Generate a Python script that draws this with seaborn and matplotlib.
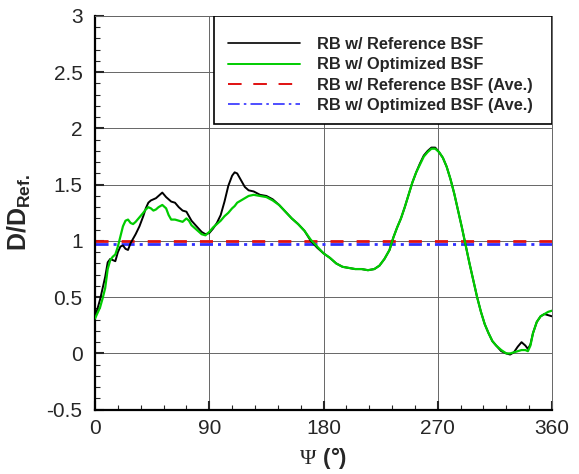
import numpy as np
import pandas as pd
import seaborn as sns
import matplotlib
matplotlib.use('Agg')
import matplotlib.pyplot as plt
from matplotlib.lines import Line2D
from matplotlib.patches import Rectangle

# azimuth (deg) and normalized drag for both blade configurations
psi = [0, 2, 4, 6, 8, 10, 12, 14, 16, 18, 20, 22, 24, 26, 28, 30, 32, 35, 38, 40,
       42, 44, 46, 48, 50, 53, 56, 58, 60, 63, 66, 69, 72, 74, 76, 80, 84, 87, 90, 93,
       96, 99, 102, 105, 108, 110, 112, 115, 118, 121, 125, 130, 135, 140, 145, 150, 155, 160, 165, 170,
       175, 180, 185, 190, 195, 200, 205, 210, 215, 220, 224, 228, 232, 235, 238, 241, 244, 247, 250, 253,
       256, 259, 262, 265, 268, 271, 274, 277, 280, 283, 286, 289, 292, 295, 298, 301, 304, 307, 310, 313,
       316, 320, 324, 327, 330, 333, 336, 339, 341, 343, 345, 348, 351, 354, 357, 360]
d_ref = [0.33, 0.40, 0.48, 0.58, 0.68, 0.81, 0.84, 0.83, 0.82, 0.90, 0.95, 0.96, 0.93, 0.92, 0.98, 1.02, 1.06, 1.13, 1.22, 1.29,
         1.34, 1.36, 1.37, 1.38, 1.40, 1.43, 1.39, 1.37, 1.35, 1.34, 1.30, 1.27, 1.26, 1.22, 1.18, 1.13, 1.08, 1.06, 1.07, 1.11,
         1.16, 1.23, 1.35, 1.49, 1.58, 1.61, 1.60, 1.54, 1.48, 1.45, 1.44, 1.41, 1.40, 1.37, 1.32, 1.26, 1.20, 1.15, 1.09, 1.00,
         0.94, 0.89, 0.85, 0.80, 0.77, 0.76, 0.75, 0.75, 0.74, 0.75, 0.78, 0.84, 0.92, 1.03, 1.12, 1.20, 1.30, 1.41, 1.52, 1.61,
         1.69, 1.76, 1.80, 1.83, 1.83, 1.79, 1.74, 1.66, 1.55, 1.42, 1.27, 1.12, 0.96, 0.80, 0.65, 0.50, 0.37, 0.26, 0.18, 0.11,
         0.07, 0.02, 0.00, -0.01, 0.01, 0.06, 0.10, 0.07, 0.04, 0.08, 0.18, 0.28, 0.33, 0.35, 0.34, 0.33]
d_opt = [0.31, 0.36, 0.41, 0.49, 0.58, 0.75, 0.83, 0.86, 0.88, 0.95, 1.04, 1.13, 1.18, 1.19, 1.16, 1.15, 1.17, 1.21, 1.25, 1.28,
         1.30, 1.29, 1.27, 1.28, 1.30, 1.32, 1.29, 1.23, 1.19, 1.19, 1.18, 1.17, 1.20, 1.18, 1.14, 1.10, 1.06, 1.05, 1.08, 1.12,
         1.15, 1.18, 1.22, 1.25, 1.29, 1.31, 1.34, 1.36, 1.38, 1.40, 1.41, 1.40, 1.39, 1.36, 1.32, 1.26, 1.20, 1.15, 1.09, 1.01,
         0.95, 0.89, 0.85, 0.80, 0.77, 0.76, 0.75, 0.75, 0.74, 0.75, 0.78, 0.84, 0.92, 1.03, 1.12, 1.20, 1.30, 1.41, 1.52, 1.61,
         1.68, 1.75, 1.79, 1.82, 1.82, 1.79, 1.74, 1.66, 1.55, 1.42, 1.27, 1.12, 0.96, 0.80, 0.65, 0.50, 0.37, 0.26, 0.18, 0.11,
         0.07, 0.03, 0.00, 0.00, 0.01, 0.02, 0.03, 0.03, 0.02, 0.07, 0.18, 0.28, 0.33, 0.35, 0.37, 0.38]
ave_ref = 1.0
ave_opt = 0.975

labels = ["RB w/ Reference BSF", "RB w/ Optimized BSF",
          "RB w/ Reference BSF (Ave.)", "RB w/ Optimized BSF (Ave.)"]

sns.set_style("white")
plt.rcParams['font.family'] = ['Liberation Sans', 'DejaVu Sans']
plt.rcParams['mathtext.fontset'] = 'custom'
plt.rcParams['mathtext.rm'] = 'Liberation Serif'
plt.rcParams['mathtext.bf'] = 'Liberation Sans:bold'

df = pd.DataFrame({"psi": psi, "ref": d_ref, "opt": d_opt})

fig = plt.figure(figsize=(5.79, 4.74), dpi=100)
ax = fig.add_axes([0.1641, 0.1357, 0.7893, 0.8306])

sns.lineplot(data=df, x="psi", y="ref", ax=ax, color="black", lw=1.4, zorder=3)
sns.lineplot(data=df, x="psi", y="opt", ax=ax, color="#00cc00", lw=1.6, zorder=3)
ax.axhline(ave_ref, color="#e01010", lw=2.0, dashes=(4.7, 4.7), zorder=2)
ax.axhline(ave_opt, color="#3030ff", lw=2.0, dashes=(4.7, 1.8, 1.1, 1.8), zorder=2)

ax.set_xlim(0, 360)
ax.set_ylim(-0.5, 3)
ax.set_xticks([0, 90, 180, 270, 360])
ax.set_xticks(np.arange(0, 361, 18), minor=True)
ax.set_yticks(np.arange(-0.5, 3.01, 0.5))
ax.set_yticks(np.arange(-0.5, 3.01, 0.1), minor=True)
ax.set_yticklabels(["-0.5", "0", "0.5", "1", "1.5", "2", "2.5", "3"])
ax.grid(True, which="major", color="#666666", lw=0.7)
ax.tick_params(which="major", direction="in", length=6.5, width=1.5, labelsize=15,
               left=True, bottom=True, top=False, right=False)
ax.tick_params(which="minor", direction="in", length=3.6, width=0.8,
               left=True, bottom=True, top=False, right=False)
ax.tick_params(axis="y", pad=9)
ax.tick_params(axis="x", pad=7)
for s in ["left", "bottom"]:
    ax.spines[s].set_color("black")
    ax.spines[s].set_linewidth(1.6)
for s in ["top", "right"]:
    ax.spines[s].set_color("#666666")
    ax.spines[s].set_linewidth(0.7)

ax.set_xlabel(r"$\Psi\ \mathbf{(°)}$", fontsize=16, labelpad=5)
ax.set_ylabel(r"$\mathbf{D/D_{Ref.}}$", fontsize=18, labelpad=10)

# legend box drawn by hand so the padding looks like the original
box = Rectangle((0.26, 0.7257), 0.74, 0.2743, transform=ax.transAxes,
                facecolor="white", edgecolor="black", lw=1.2, zorder=4)
ax.add_patch(box)
handles = [Line2D([], [], color="black", lw=1.2),
           Line2D([], [], color="#00cc00", lw=1.4),
           Line2D([], [], color="#e01010", lw=1.4, dashes=(7, 6)),
           Line2D([], [], color="#3030ff", lw=1.2, dashes=(7, 2.5, 1.5, 2.5))]
leg = ax.legend(handles, labels, loc="upper left", bbox_to_anchor=(0.29, 0.947),
                frameon=False, prop={"weight": "bold", "size": 11.8},
                handlelength=4.45, handletextpad=1.0, labelspacing=0.33,
                borderaxespad=0, borderpad=0)
leg.set_zorder(5)

fig.savefig("out.png", dpi=100)
